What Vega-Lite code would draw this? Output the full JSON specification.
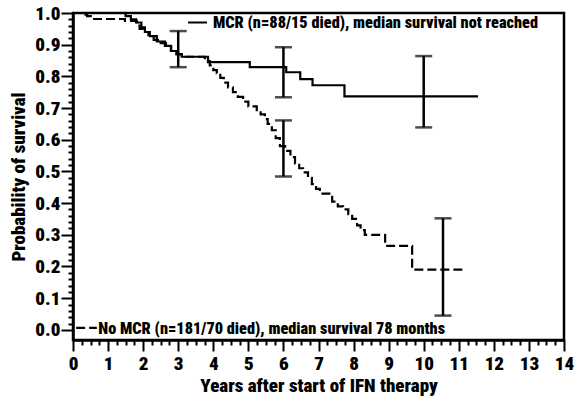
{
  "$schema": "https://vega.github.io/schema/vega-lite/v6.json",
  "width": 491,
  "height": 327,
  "autosize": {"type": "none"},
  "padding": {"left": 73, "top": 13, "right": 12, "bottom": 60},
  "background": "white",
  "config": {
    "view": {"stroke": "black", "strokeWidth": 2.5},
    "font": "Roboto Condensed, Roboto",
    "axis": {
      "labelFont": "Roboto Condensed, Roboto",
      "titleFont": "Roboto Condensed, Roboto",
      "labelFontWeight": 900,
      "titleFontWeight": 900,
      "labelColor": "black",
      "titleColor": "black",
      "domainColor": "black",
      "domainWidth": 2.5,
      "tickColor": "black",
      "tickWidth": 2,
      "grid": false,
      "labelOverlap": false,
      "labelFlush": false
    }
  },
  "resolve": {"axis": {"x": "independent", "y": "independent"}},
  "datasets": {
    "curves": [
      {"series": "MCR", "year": 0, "prob": 1.0},
      {"series": "MCR", "year": 1.4, "prob": 1.0},
      {"series": "MCR", "year": 1.5, "prob": 0.99},
      {"series": "MCR", "year": 1.65, "prob": 0.98},
      {"series": "MCR", "year": 1.8, "prob": 0.97},
      {"series": "MCR", "year": 1.95, "prob": 0.955},
      {"series": "MCR", "year": 2.05, "prob": 0.94},
      {"series": "MCR", "year": 2.19, "prob": 0.927},
      {"series": "MCR", "year": 2.39, "prob": 0.91},
      {"series": "MCR", "year": 2.62, "prob": 0.896},
      {"series": "MCR", "year": 2.79, "prob": 0.88},
      {"series": "MCR", "year": 2.95, "prob": 0.87},
      {"series": "MCR", "year": 3.1, "prob": 0.862},
      {"series": "MCR", "year": 3.85, "prob": 0.845},
      {"series": "MCR", "year": 5.04, "prob": 0.829},
      {"series": "MCR", "year": 6.08, "prob": 0.813},
      {"series": "MCR", "year": 6.48, "prob": 0.791},
      {"series": "MCR", "year": 6.83, "prob": 0.772},
      {"series": "MCR", "year": 7.74, "prob": 0.737},
      {"series": "MCR", "year": 11.55, "prob": 0.737},
      {"series": "No MCR", "year": 0, "prob": 1.0},
      {"series": "No MCR", "year": 0.15, "prob": 1.0},
      {"series": "No MCR", "year": 0.25, "prob": 0.995},
      {"series": "No MCR", "year": 0.4, "prob": 0.99},
      {"series": "No MCR", "year": 0.55, "prob": 0.981},
      {"series": "No MCR", "year": 1.48, "prob": 0.975},
      {"series": "No MCR", "year": 1.82, "prob": 0.96},
      {"series": "No MCR", "year": 1.9, "prob": 0.95},
      {"series": "No MCR", "year": 2.0, "prob": 0.94},
      {"series": "No MCR", "year": 2.15, "prob": 0.93},
      {"series": "No MCR", "year": 2.3, "prob": 0.915},
      {"series": "No MCR", "year": 2.5, "prob": 0.905},
      {"series": "No MCR", "year": 2.65, "prob": 0.895},
      {"series": "No MCR", "year": 2.8, "prob": 0.88},
      {"series": "No MCR", "year": 2.95, "prob": 0.87},
      {"series": "No MCR", "year": 3.1, "prob": 0.862},
      {"series": "No MCR", "year": 3.76, "prob": 0.848},
      {"series": "No MCR", "year": 3.9, "prob": 0.835},
      {"series": "No MCR", "year": 4.0, "prob": 0.82},
      {"series": "No MCR", "year": 4.1, "prob": 0.81},
      {"series": "No MCR", "year": 4.2, "prob": 0.795},
      {"series": "No MCR", "year": 4.3, "prob": 0.78},
      {"series": "No MCR", "year": 4.42, "prob": 0.765},
      {"series": "No MCR", "year": 4.56, "prob": 0.75},
      {"series": "No MCR", "year": 4.7, "prob": 0.735},
      {"series": "No MCR", "year": 4.85, "prob": 0.72},
      {"series": "No MCR", "year": 5.0, "prob": 0.705},
      {"series": "No MCR", "year": 5.24, "prob": 0.69},
      {"series": "No MCR", "year": 5.35, "prob": 0.68},
      {"series": "No MCR", "year": 5.47, "prob": 0.665},
      {"series": "No MCR", "year": 5.55, "prob": 0.65},
      {"series": "No MCR", "year": 5.67, "prob": 0.63},
      {"series": "No MCR", "year": 5.78, "prob": 0.605},
      {"series": "No MCR", "year": 5.9, "prob": 0.58},
      {"series": "No MCR", "year": 6.05, "prob": 0.565},
      {"series": "No MCR", "year": 6.2, "prob": 0.545},
      {"series": "No MCR", "year": 6.33, "prob": 0.525},
      {"series": "No MCR", "year": 6.45, "prob": 0.51},
      {"series": "No MCR", "year": 6.56, "prob": 0.497},
      {"series": "No MCR", "year": 6.7, "prob": 0.48},
      {"series": "No MCR", "year": 6.81, "prob": 0.46},
      {"series": "No MCR", "year": 6.93, "prob": 0.445},
      {"series": "No MCR", "year": 7.04, "prob": 0.43},
      {"series": "No MCR", "year": 7.39, "prob": 0.405},
      {"series": "No MCR", "year": 7.55, "prob": 0.39},
      {"series": "No MCR", "year": 7.7, "prob": 0.38},
      {"series": "No MCR", "year": 7.85, "prob": 0.365},
      {"series": "No MCR", "year": 7.96, "prob": 0.35},
      {"series": "No MCR", "year": 8.1, "prob": 0.33},
      {"series": "No MCR", "year": 8.2, "prob": 0.315},
      {"series": "No MCR", "year": 8.32, "prob": 0.3},
      {"series": "No MCR", "year": 8.9, "prob": 0.265},
      {"series": "No MCR", "year": 9.67, "prob": 0.19},
      {"series": "No MCR", "year": 11.18, "prob": 0.19}
    ],
    "bars": [
      {"year": 3.0, "lo": 0.829, "hi": 0.943},
      {"year": 6.0, "lo": 0.734, "hi": 0.892},
      {"year": 10.0, "lo": 0.639, "hi": 0.864},
      {"year": 6.0, "lo": 0.484, "hi": 0.661},
      {"year": 10.55, "lo": 0.045, "hi": 0.352}
    ],
    "legendLines": [
      {"series": "MCR", "year": 3.28, "prob": 0.97},
      {"series": "MCR", "year": 3.82, "prob": 0.97},
      {"series": "No MCR", "year": 0.09, "prob": 0.006},
      {"series": "No MCR", "year": 0.68, "prob": 0.006}
    ],
    "labels": [
      {"year": 3.99, "prob": 0.968, "text": "MCR (n=88/15 died), median survival not reached"},
      {"year": 0.72, "prob": 0.004, "text": "No MCR (n=181/70 died), median survival 78 months"}
    ]
  },
  "layer": [
    {
      "data": {"name": "curves"},
      "mark": {"type": "line", "interpolate": "step-after", "strokeWidth": 2.2, "color": "black"},
      "encoding": {
        "x": {
          "field": "year", "type": "quantitative",
          "scale": {"domain": [0, 14], "nice": false, "zero": false},
          "axis": {
            "orient": "bottom",
            "title": "Years after start of IFN therapy",
            "titleFontSize": 19,
            "titlePadding": 3,
            "labelFontSize": 19,
            "labelPadding": 3,
            "tickSize": 11,
            "values": [0,1,2,3,4,5,6,7,8,9,10,11,12,13,14],
            "format": "d"
          }
        },
        "y": {
          "field": "prob", "type": "quantitative",
          "scale": {"domain": [-0.032, 1.0], "nice": false, "zero": false},
          "axis": {
            "orient": "left",
            "title": "Probability of survival",
            "titleFontSize": 19,
            "titlePadding": 6,
            "labelFontSize": 19,
            "labelPadding": 1,
            "tickSize": 12,
            "values": [0,0.1,0.2,0.3,0.4,0.5,0.6,0.7,0.8,0.9,1.0],
            "format": ".1f"
          }
        },
        "detail": {"field": "series"},
        "strokeDash": {
          "field": "series", "type": "nominal",
          "scale": {"domain": ["MCR", "No MCR"], "range": [[1, 0], [9, 4]]},
          "legend": null
        }
      }
    },
    {
      "data": {"name": "bars"},
      "mark": {"type": "rule", "strokeWidth": 2.5, "color": "black"},
      "encoding": {
        "x": {
          "field": "year", "type": "quantitative",
          "axis": {
            "orient": "bottom",
            "title": null,
            "labels": false,
            "domain": false,
            "tickSize": 5,
            "values": [0.25,0.5,0.75,1.25,1.5,1.75,2.25,2.5,2.75,3.25,3.5,3.75,4.25,4.5,4.75,5.25,5.5,5.75,6.25,6.5,6.75,7.25,7.5,7.75,8.25,8.5,8.75,9.25,9.5,9.75,10.25,10.5,10.75,11.25,11.5,11.75,12.25,12.5,12.75,13.25,13.5,13.75]
          }
        },
        "y": {
          "field": "lo", "type": "quantitative",
          "axis": {
            "orient": "left",
            "title": null,
            "labels": false,
            "domain": false,
            "tickSize": 5,
            "values": [0.02,0.04,0.06,0.08,0.12,0.14,0.16,0.18,0.22,0.24,0.26,0.28,0.32,0.34,0.36,0.38,0.42,0.44,0.46,0.48,0.52,0.54,0.56,0.58,0.62,0.64,0.66,0.68,0.72,0.74,0.76,0.78,0.82,0.84,0.86,0.88,0.92,0.94,0.96,0.98]
          }
        },
        "y2": {"field": "hi"}
      }
    },
    {
      "data": {"name": "legendLines"},
      "mark": {"type": "line", "strokeWidth": 2.2, "color": "black"},
      "encoding": {
        "x": {"field": "year", "type": "quantitative", "axis": null},
        "y": {"field": "prob", "type": "quantitative", "axis": null},
        "detail": {"field": "series"},
        "strokeDash": {
          "field": "series", "type": "nominal",
          "scale": {"domain": ["MCR", "No MCR"], "range": [[1, 0], [9, 4]]},
          "legend": null
        }
      }
    },
    {
      "data": {"name": "bars"},
      "transform": [{"fold": ["lo", "hi"], "as": ["end", "val"]}],
      "mark": {"type": "tick", "orient": "horizontal", "size": 17, "thickness": 2.5, "color": "black"},
      "encoding": {
        "x": {"field": "year", "type": "quantitative", "axis": null},
        "y": {"field": "val", "type": "quantitative", "axis": null}
      }
    },
    {
      "data": {"name": "labels"},
      "mark": {"type": "text", "align": "left", "baseline": "middle", "fontSize": 16.3, "fontWeight": 900, "color": "black", "font": "Roboto Condensed, Roboto"},
      "encoding": {
        "x": {"field": "year", "type": "quantitative", "axis": null},
        "y": {"field": "prob", "type": "quantitative", "axis": null},
        "text": {"field": "text"}
      }
    }
  ]
}
